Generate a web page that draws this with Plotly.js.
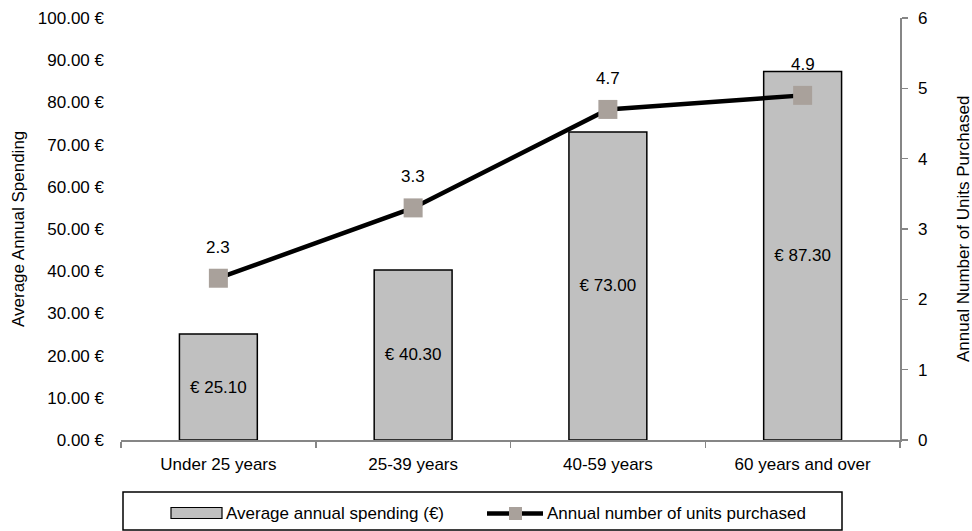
<!DOCTYPE html>
<html>
<head>
<meta charset="utf-8">
<script src="https://cdn.plot.ly/plotly-3.0.1.min.js"></script>
<style>
  html, body { margin: 0; padding: 0; background: #fff; }
  #chart { width: 972px; height: 531px; }
</style>
</head>
<body>
<div id="chart"></div>
<script>
// Age groups and the two measures per group
const ageGroups = ['Under 25 years', '25-39 years', '40-59 years', '60 years and over'];
const avgSpending = [25.10, 40.30, 73.00, 87.30];
const unitsPurchased = [2.3, 3.3, 4.7, 4.9];

const seriesNames = ['Average annual spending (€)', 'Annual number of units purchased'];
const leftTitle = 'Average Annual Spending';
const rightTitle = 'Annual Number of Units Purchased';

const FONT = '"Liberation Sans", Arial, sans-serif';
const FS = 17;
const AXIS_GREY = '#868686';
const BAR_FILL = '#C0C0C0';
const MARKER_FILL = '#A9A19B';

// Plot area geometry (pixels)
const W = 972, H = 531;
const M = { l: 121, r: 72, t: 18, b: 91 };
const plotW = W - M.l - M.r;
const plotH = H - M.t - M.b;
const px = x => (x - M.l) / plotW;          // pixel x -> paper
const py = y => (H - M.b - y) / plotH;      // pixel y -> paper

const barTrace = {
  type: 'bar',
  x: ageGroups,
  y: avgSpending,
  name: seriesNames[0],
  marker: { color: BAR_FILL, line: { color: '#000', width: 1.5 } },
  width: 0.4,
  text: avgSpending.map(v => '€ ' + v.toFixed(2)),
  textposition: 'inside',
  insidetextanchor: 'middle',
  textangle: 0,
  textfont: { family: FONT, size: FS, color: '#000' },
  hoverinfo: 'x+y',
  showlegend: false
};

const lineTrace = {
  type: 'scatter',
  mode: 'lines+markers',
  x: ageGroups,
  y: unitsPurchased,
  yaxis: 'y2',
  name: seriesNames[1],
  line: { color: '#000', width: 4.5 },
  marker: { symbol: 'square', size: 19, color: MARKER_FILL, line: { width: 0 } },
  showlegend: false
};

// Value labels above the line markers
const lineLabels = ageGroups.map((g, i) => ({
  x: g, y: unitsPurchased[i], xref: 'x', yref: 'y2',
  text: unitsPurchased[i].toFixed(1),
  showarrow: false, yshift: 31,
  font: { family: FONT, size: FS, color: '#000' }
}));

// Axis titles placed beside the tick labels
const axisTitles = [
  { xref: 'paper', yref: 'paper', x: px(18), y: py(229), xanchor: 'center', yanchor: 'middle',
    text: leftTitle, textangle: -90, showarrow: false, font: { family: FONT, size: FS, color: '#000' } },
  { xref: 'paper', yref: 'paper', x: px(963), y: py(229), xanchor: 'center', yanchor: 'middle',
    text: rightTitle, textangle: -90, showarrow: false, font: { family: FONT, size: FS, color: '#000' } }
];

// Legend box drawn beneath the axis
const legendShapes = [
  { type: 'rect', xref: 'paper', yref: 'paper',
    x0: px(123), x1: px(842), y0: py(530), y1: py(492),
    line: { color: '#000', width: 1.5 }, fillcolor: 'rgba(0,0,0,0)' },
  { type: 'rect', xref: 'paper', yref: 'paper',
    x0: px(171), x1: px(222), y0: py(518.5), y1: py(507.5),
    line: { color: '#000', width: 1.2 }, fillcolor: BAR_FILL },
  { type: 'line', xref: 'paper', yref: 'paper',
    x0: px(487), x1: px(543), y0: py(513.5), y1: py(513.5),
    line: { color: '#000', width: 4.5 } },
  { type: 'rect', xref: 'paper', yref: 'paper',
    x0: px(509), x1: px(522), y0: py(520), y1: py(507),
    line: { width: 0 }, fillcolor: MARKER_FILL }
];

const legendText = [
  { xref: 'paper', yref: 'paper', x: px(224), y: py(513), xanchor: 'left', yanchor: 'middle',
    text: seriesNames[0], showarrow: false, font: { family: FONT, size: FS, color: '#000' } },
  { xref: 'paper', yref: 'paper', x: px(545), y: py(513), xanchor: 'left', yanchor: 'middle',
    text: seriesNames[1], showarrow: false, font: { family: FONT, size: FS, color: '#000' } }
];

const layout = {
  width: W, height: H,
  margin: M,
  paper_bgcolor: '#fff', plot_bgcolor: '#fff',
  font: { family: FONT, size: FS, color: '#000' },
  showlegend: false,
  bargap: 0.6,
  xaxis: {
    type: 'category',
    showline: true, linecolor: AXIS_GREY, linewidth: 1.5,
    ticks: 'outside', tickson: 'boundaries', ticklen: 6, tickcolor: AXIS_GREY, tickwidth: 1.5,
    ticklabelstandoff: 8,
    showgrid: false, zeroline: false,
    tickfont: { family: FONT, size: FS, color: '#000' },
    fixedrange: true
  },
  yaxis: {
    range: [0, 100], dtick: 10, tick0: 0,
    tickformat: '.2f', ticksuffix: ' €',
    showline: false, ticks: '',
    ticklabelstandoff: 16,
    showgrid: false, zeroline: false,
    tickfont: { family: FONT, size: FS, color: '#000' },
    fixedrange: true
  },
  yaxis2: {
    overlaying: 'y', side: 'right',
    range: [0, 6], dtick: 1, tick0: 0,
    showline: true, linecolor: AXIS_GREY, linewidth: 1.5,
    ticks: 'outside', ticklen: 6, tickcolor: AXIS_GREY, tickwidth: 1.5,
    ticklabelstandoff: 7,
    showgrid: false, zeroline: false,
    tickfont: { family: FONT, size: FS, color: '#000' },
    fixedrange: true
  },
  shapes: legendShapes,
  annotations: lineLabels.concat(axisTitles, legendText)
};

Plotly.newPlot('chart', [barTrace, lineTrace], layout, { displayModeBar: false, staticPlot: true });
</script>
</body>
</html>
